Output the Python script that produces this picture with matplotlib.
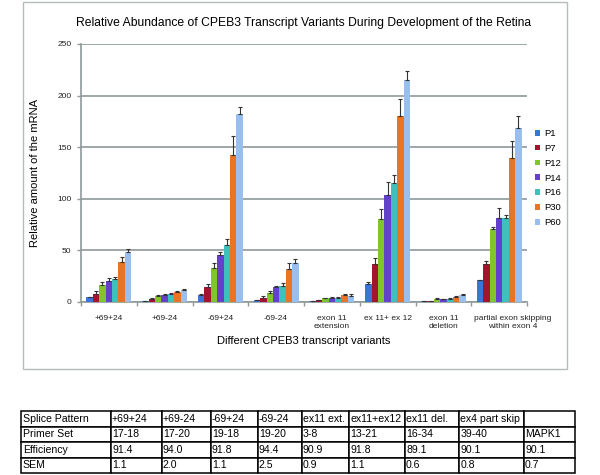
import numpy as np
import matplotlib.pyplot as plt
import matplotlib.transforms as mtransforms
from matplotlib.patches import Rectangle

plt.rcParams['font.family'] = ['Liberation Sans', 'DejaVu Sans']

# --- DATA ---
categories = ['+69+24', '+69-24', '-69+24', '-69-24', 'exon 11\nextension',
              'ex 11+ ex 12', 'exon 11\ndeletion', 'partial exon skipping\nwithin exon 4']
stages = ['P1', 'P7', 'P12', 'P14', 'P16', 'P30', 'P60']

p1 = [4.5, 1.0, 6.8, 2.0, 1.0, 17.0, 0.6, 21.3]
p7 = [8.0, 3.0, 15.0, 4.0, 1.5, 36.5, 1.0, 36.5]
p12 = [16.8, 6.0, 33.0, 9.0, 3.5, 80.0, 3.0, 70.3]
p14 = [20.0, 6.5, 46.0, 14.5, 4.0, 104.0, 2.6, 81.0]
p16 = [22.0, 8.0, 55.0, 15.5, 4.0, 115.0, 3.2, 81.6]
p30 = [38.4, 10.0, 142.0, 32.0, 6.5, 180.0, 5.0, 139.7]
p60 = [48.0, 12.0, 182.6, 37.7, 6.0, 215.0, 6.5, 169.0]

e1 = [0.5, 0.3, 0.5, 0.3, 0.3, 2.0, 0.2, 0.5]
e7 = [2.3, 0.5, 2.0, 2.0, 0.4, 6.0, 0.3, 3.0]
e12 = [2.6, 1.0, 5.0, 2.0, 0.5, 10.0, 0.5, 2.3]
e14 = [3.0, 1.0, 2.5, 0.7, 0.5, 12.0, 0.5, 10.0]
e16 = [2.0, 1.0, 6.0, 2.5, 0.5, 8.0, 0.5, 3.0]
e30 = [5.0, 1.0, 19.0, 6.0, 0.8, 16.5, 0.8, 16.0]
e60 = [3.0, 1.0, 6.5, 4.0, 1.5, 8.7, 1.0, 11.0]

values = [p1, p7, p12, p14, p16, p30, p60]
errors = [e1, e7, e12, e14, e16, e30, e60]
colors = ['#3A76D6', '#A3152E', '#80C62A', '#6640CC', '#40BFBF', '#E87426', '#99BFF0']

# table under the chart
row_names = ['Splice Pattern', 'Primer Set', 'Efficiency', 'SEM']
splice = ['+69+24', '+69-24', '-69+24', '-69-24', 'ex11 ext.', 'ex11+ex12', 'ex11 del.', 'ex4 part skip', '']
primers = ['17-18', '17-20', '19-18', '19-20', '3-8', '13-21', '16-34', '39-40', 'MAPK1']
efficiency = ['91.4', '94.0', '91.8', '94.4', '90.9', '91.8', '89.1', '90.1', '90.1']
sem = ['1.1', '2.0', '1.1', '2.5', '0.9', '1.1', '0.6', '0.8', '0.7']

W, H = 600, 475
fig = plt.figure(figsize=(6, 4.75), dpi=100)

# chart border
fig.patches.append(Rectangle((23 / W, 1 - 369 / H), (567 - 23) / W, (369 - 2) / H,
                             transform=fig.transFigure, fill=False,
                             edgecolor='#B4BCBC', linewidth=1.0))

ax = fig.add_axes([81 / W, 1 - 302 / H, (527 - 81) / W, (302 - 44) / H])

x = np.arange(len(categories))
bw = 0.115
grid_c = '#8E9999'
for i, (vals, errs) in enumerate(zip(values, errors)):
    pos = x - 3 * bw + i * bw
    ax.bar(pos, vals, width=bw, color=colors[i], label=stages[i], zorder=3)
    ax.errorbar(pos, vals, yerr=[np.zeros(len(errs)), errs], fmt='none',
                ecolor='#333333', elinewidth=0.8, capsize=1.6, capthick=0.8, zorder=4)

ax.set_xlim(-0.5, len(categories) - 0.5)
ax.set_ylim(0, 250)
ax.set_yticks(np.arange(0, 251, 50))
ax.yaxis.grid(True, color=grid_c, linewidth=1.2, zorder=0)
ax.set_axisbelow(True)
for s in ['top', 'right']:
    ax.spines[s].set_visible(False)
ax.spines['left'].set_color(grid_c)
ax.spines['left'].set_linewidth(1.2)
ax.spines['bottom'].set_color(grid_c)
ax.spines['bottom'].set_linewidth(1.2)

ax.set_xticks(np.arange(-0.5, len(categories), 1))
ax.set_xticklabels([])
ax.set_xticks(x, minor=True)
ax.set_xticklabels(categories, minor=True, fontsize=6, color='#222222', linespacing=1.4)
ax.tick_params(axis='x', which='major', length=3, color=grid_c, width=1)
ax.tick_params(axis='x', which='minor', length=0, pad=9)
ax.tick_params(axis='y', length=3, color=grid_c, width=1, labelsize=6, labelcolor='#222222', pad=4)
for lab in ax.get_xticklabels(minor=True):
    lab.set_verticalalignment('top')
# the long last label sits a bit to the right in the original, like Excel does
last = ax.get_xticklabels(minor=True)[-1]
last.set_transform(last.get_transform() + mtransforms.ScaledTranslation(14 / 100, 0, fig.dpi_scale_trans))

ax.set_xlabel('Different CPEB3 transcript variants', fontsize=8, labelpad=4)
ax.set_ylabel('Relative amount of the mRNA', fontsize=8, labelpad=12)
ax.set_title('Relative Abundance of CPEB3 Transcript Variants During Development of the Retina',
             fontsize=8.7, pad=13)

ax.legend(loc='upper left', bbox_to_anchor=(535 / W, 1 - 129 / H), bbox_transform=fig.transFigure,
          frameon=False, fontsize=6.8, handlelength=0.55, handleheight=0.55, handletextpad=0.4,
          labelspacing=0.62, borderaxespad=0, borderpad=0)

# --- TABLE ---
tax = fig.add_axes([21 / W, 1 - 473 / H, (575 - 21) / W, (473 - 411) / H])
tax.axis('off')
cell_text = [[row_names[0]] + splice, [row_names[1]] + primers,
             [row_names[2]] + efficiency, [row_names[3]] + sem]
edges = [21, 111, 162, 211, 258, 302, 349, 405, 459, 524, 575]
col_w = np.diff(edges) / (edges[-1] - edges[0])
tbl = tax.table(cellText=cell_text, colWidths=list(col_w), cellLoc='left', bbox=[0, 0, 1, 1])
tbl.auto_set_font_size(False)
for (r, c), cell in tbl.get_celld().items():
    cell.set_linewidth(1.1)
    cell.set_edgecolor('black')
    cell.PAD = 0.02
    cell.get_text().set_fontsize(7.6)

fig.savefig('out.png', dpi=100)
